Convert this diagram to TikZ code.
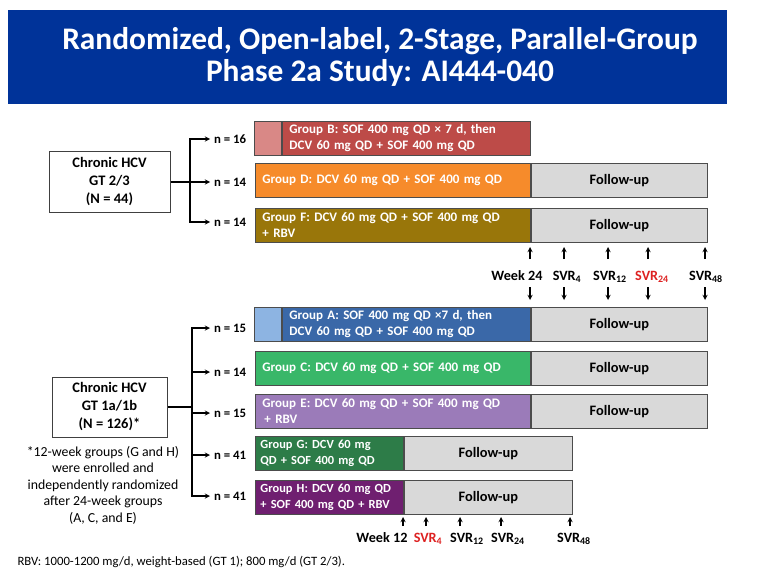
\documentclass[tikz,border=0pt]{standalone}
\usepackage{fontspec}
\setmainfont{Carlito}
\usetikzlibrary{positioning}
\definecolor{bannerblue}{RGB}{0,51,153}
\definecolor{grpB}{RGB}{189,75,72}
\definecolor{grpBlt}{RGB}{217,136,134}
\definecolor{grpD}{RGB}{246,139,43}
\definecolor{grpF}{RGB}{153,118,10}
\definecolor{grpA}{RGB}{58,104,168}
\definecolor{grpAlt}{RGB}{141,180,226}
\definecolor{grpC}{RGB}{57,183,105}
\definecolor{grpE}{RGB}{155,123,185}
\definecolor{grpG}{RGB}{45,124,72}
\definecolor{grpH}{RGB}{111,31,112}
\definecolor{fugray}{RGB}{217,217,217}
\definecolor{svrred}{RGB}{221,33,33}

\begin{document}
\begin{tikzpicture}[x=1pt,y=-1pt,
  every node/.style={font=\bfseries\fontsize{13}{16}\selectfont},
  bar/.style={draw=black!70, line width=0.9pt, anchor=north west, minimum height=34pt, inner xsep=7pt, inner ysep=1pt, text=white, align=left},
  shortbar/.style={bar, inner xsep=5pt, text width=138pt, font=\bfseries\fontsize{12.4}{16}\selectfont},
  patch/.style={draw=black!70, line width=0.9pt, minimum height=34pt, minimum width=27pt, inner sep=0pt},
  fu/.style={draw=black!70, line width=0.9pt, fill=fugray, minimum height=34pt, inner sep=0pt, font=\bfseries\fontsize{14.4}{16}\selectfont},
  src/.style={draw=black!75, line width=1pt, minimum height=60pt, inner sep=2pt, align=center, font=\bfseries\fontsize{14.5}{18}\selectfont},
  nlab/.style={anchor=west, inner sep=4pt, font=\bfseries\fontsize{12.8}{15}\selectfont},
  wlab/.style={anchor=base, inner sep=0pt, font=\bfseries\fontsize{14.2}{16}\selectfont},
  arr/.style={line width=1.3pt, -stealth}]
   \useasboundingbox (0,0) rectangle (762,588);
   \node[fill=bannerblue, minimum width=719pt, minimum height=94pt, anchor=north west, inner sep=0pt] (banner) at (8,10) {};
   \node[text=white, align=center, font=\bfseries\fontsize{31.4}{32}\selectfont] (title) at (380,57) {Randomized, Open-label, 2-Stage, Parallel-Group\\Phase 2a Study: AI444-040};

   \node[bar, fill=grpB, text width=234pt] (gB) at (282,121) {Group B: SOF 400 mg QD × 7 d, then\\DCV 60 mg QD + SOF 400 mg QD};
   \node[patch, fill=grpBlt] (pB) [left=0pt of gB] {};
   \node[bar, fill=grpD, text width=261pt] (gD) at (255,163) {Group D: DCV 60 mg QD + SOF 400 mg QD};
   \node[fu, minimum width=176pt] (fD) [right=0pt of gD] {Follow-up};
   \node[bar, fill=grpF, text width=261pt] (gF) at (255,208) {Group F: DCV 60 mg QD + SOF 400 mg QD\\+ RBV};
   \node[fu, minimum width=176pt] (fF) [right=0pt of gF] {Follow-up};

   \node[src, minimum width=121pt] (hcv23) at (109.5,182) {Chronic HCV\\GT 2/3\\(N = 44)};
   \coordinate (j1) at (190,182);
   \node[nlab] (n16) at (210,139) {n = 16};
   \node[nlab] (n14d) at (210,182) {n = 14};
   \node[nlab] (n14f) at (210,222) {n = 14};
   \path[arr]
    (hcv23) edge[-] (j1)
    (j1) edge (n14d)
    (j1) edge[to path={|- (\tikztotarget)}] (n16)
    (j1) edge[to path={|- (\tikztotarget)}] (n14f);

   \foreach \x/\t in {530/w24,564/s4,608/s12,648/s24,705/s48}{
     \coordinate (ua\t) at (\x,259);
     \coordinate (ub\t) at (\x,247);
     \coordinate (da\t) at (\x,287);
     \coordinate (db\t) at (\x,300);
     \draw[arr] (ua\t) -- (ub\t);
     \draw[arr] (da\t) -- (db\t);
   }
   \node[wlab] (lw24) at (517,280) {Week 24};
   \node[wlab] (ls4) at (567,280) {SVR\textsubscript{4}};
   \node[wlab] (ls12) at (610,280) {SVR\textsubscript{12}};
   \node[wlab, text=svrred] (ls24) at (652,280) {SVR\textsubscript{24}};
   \node[wlab] (ls48) at (706,280) {SVR\textsubscript{48}};

   \node[bar, fill=grpA, text width=234pt] (gA) at (282,307) {Group A: SOF 400 mg QD ×7 d, then\\DCV 60 mg QD + SOF 400 mg QD};
   \node[patch, fill=grpAlt] (pA) [left=0pt of gA] {};
   \node[fu, minimum width=176pt] (fA) [right=0pt of gA] {Follow-up};
   \node[bar, fill=grpC, text width=261pt] (gC) at (255,351) {Group C: DCV 60 mg QD + SOF 400 mg QD};
   \node[fu, minimum width=176pt] (fC) [right=0pt of gC] {Follow-up};
   \node[bar, fill=grpE, text width=261pt] (gE) at (255,394) {Group E: DCV 60 mg QD + SOF 400 mg QD\\\hspace*{2pt}+ RBV};
   \node[fu, minimum width=176pt] (fE) [right=0pt of gE] {Follow-up};
   \node[shortbar, fill=grpG] (gG) at (255,436) {Group G: DCV 60 mg\\QD + SOF 400 mg QD};
   \node[fu, minimum width=168pt] (fG) [right=0pt of gG] {Follow-up};
   \node[shortbar, fill=grpH] (gH) at (255,480) {Group H: DCV 60 mg QD\\+ SOF 400 mg QD + RBV};
   \node[fu, minimum width=168pt] (fH) [right=0pt of gH] {Follow-up};

   \node[src, minimum width=115pt] (hcv1) at (109.5,407) {Chronic HCV\\GT 1a/1b\\(N = 126)*};
   \coordinate (j2) at (192,407);
   \node[nlab] (n15a) at (210,328) {n = 15};
   \node[nlab] (n14c) at (210,372) {n = 14};
   \node[nlab] (n15e) at (210,413) {n = 15};
   \node[nlab] (n41g) at (210,455) {n = 41};
   \node[nlab] (n41h) at (210,496) {n = 41};
   \path[arr]
    (hcv1) edge[-] (j2)
    (j2) edge[to path={|- (\tikztotarget)}] (n15a)
    (j2) edge[to path={|- (\tikztotarget)}] (n14c)
    (j2) edge[to path={|- (\tikztotarget)}] (n15e)
    (j2) edge[to path={|- (\tikztotarget)}] (n41g)
    (j2) edge[to path={|- (\tikztotarget)}] (n41h);

   \node[align=center, font=\fontsize{13.8}{16.5}\selectfont] (star) at (103,485) {*12-week groups (G and H)\\were enrolled and\\independently randomized\\after 24-week groups\\(A, C, and E)};

   \foreach \x/\t in {403/w12,426/t4,460/t12,501/t24,570/t48}{
     \coordinate (ua\t) at (\x,526);
     \coordinate (ub\t) at (\x,517);
     \draw[arr] (ua\t) -- (ub\t);
   }
   \node[wlab] (lw12) at (382,542) {Week 12};
   \node[wlab, text=svrred] (lt4) at (428,542) {SVR\textsubscript{4}};
   \node[wlab] (lt12) at (467,542) {SVR\textsubscript{12}};
   \node[wlab] (lt24) at (508,542) {SVR\textsubscript{24}};
   \node[wlab] (lt48) at (574,542) {SVR\textsubscript{48}};

   \node[anchor=west, font=\fontsize{12.7}{14}\selectfont] (rbv) at (14,562) {RBV: 1000-1200 mg/d, weight-based (GT 1); 800 mg/d (GT 2/3).};
\end{tikzpicture}
\end{document}
